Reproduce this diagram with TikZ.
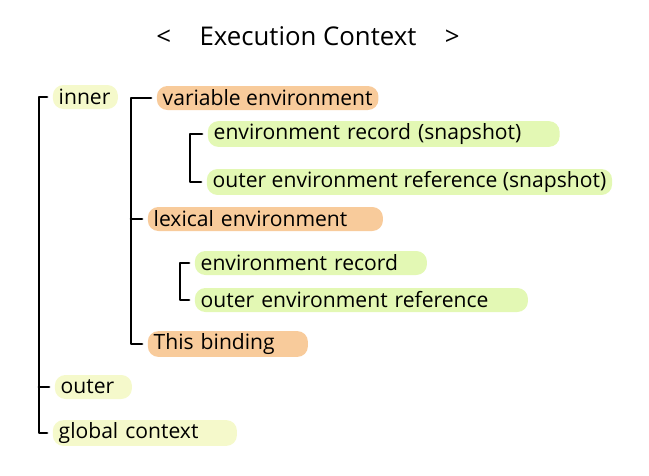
\documentclass[tikz,border=0pt]{standalone}
\usepackage{fontspec}
\setmainfont{Open Sans}
\usetikzlibrary{positioning, calc}

\definecolor{hlyellow}{HTML}{F5F9CB}
\definecolor{hlorange}{HTML}{F8CB9B}
\definecolor{hlgreen}{HTML}{E3F8B4}

\begin{document}
\begin{tikzpicture}[
    x=0.03cm, y=-0.03cm,
    hl/.style={rounded corners=9pt, anchor=west, minimum height=0.72cm, inner xsep=5pt, inner ysep=2pt, outer sep=5pt, font=\fontsize{18}{20}\selectfont},
    fw/.style={text width=#1, align=left},
    ctxbox/.style={hl, fill=hlyellow},
    envbox/.style={hl, fill=hlorange},
    recbox/.style={hl, fill=hlgreen},
    bracket/.style={line width=2.3pt, line cap=round, line join=round}
]
    \useasboundingbox (0,0) rectangle (649,475);

    \node[font=\fontsize{22}{24}\selectfont] (title) at (308,36) {<\hspace{1.1em}Execution Context\hspace{1.1em}>};

    % execution contexts
    \node[ctxbox, fw=1.6cm] (inner) at (47,97) {inner};
    \node[ctxbox, fw=1.96cm] (outer) at (49,387) {outer};
    \node[ctxbox, fw=5.17cm] (global) at (47,433) {global context};

    % components of inner
    \node[envbox] (variable) at (151,98) {variable environment};
    \node[recbox, fw=10.2cm] (rec1) at (202,134) {environment record (snapshot)};
    \node[recbox] (ref1) at (201,182) {outer environment reference (snapshot)};
    \node[envbox, fw=6.7cm] (lexical) at (142,219) {lexical environment};
    \node[recbox, fw=6.61cm] (rec2) at (189,263) {environment record};
    \node[recbox, fw=9.64cm] (ref2) at (189,300) {outer environment reference};
    \node[envbox, fw=4.45cm] (this) at (142,344) {This binding};

    \draw[bracket] (inner.west) -- ++(-8,0) coordinate (ob) |- (global.west);
    \draw[bracket] (outer.west) -- (ob |- outer.west);
    \draw[bracket] (variable.west) -- ++(-20,0) coordinate (ib) |- (this.west);
    \draw[bracket] (lexical.west) -- (ib |- lexical.west);
    \draw[bracket] (rec1.west) -- ++(-12,0) |- (ref1.west);
    \draw[bracket] (rec2.west) -- ++(-9,0) |- (ref2.west);
\end{tikzpicture}
\end{document}
